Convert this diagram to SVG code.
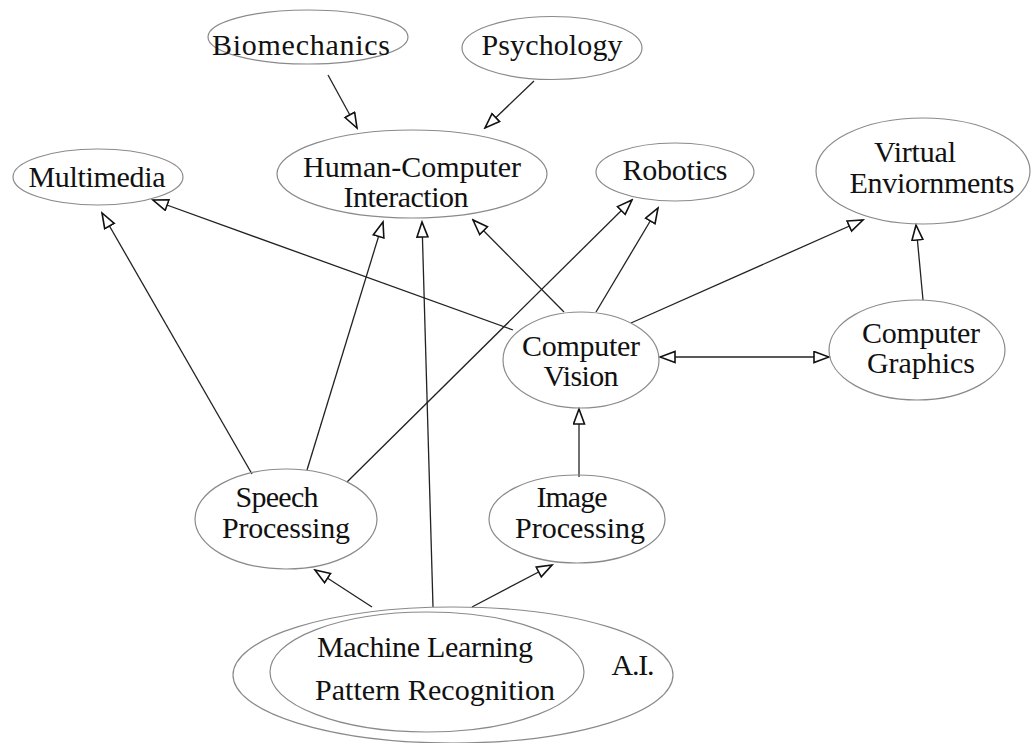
<svg xmlns="http://www.w3.org/2000/svg" width="1032" height="743" viewBox="0 0 1032 743">
<style>
.n ellipse{fill:none;stroke:#8a8a8a;stroke-width:1.2}
.n text{font-family:"Liberation Serif","Times New Roman",serif;font-size:30px;fill:#111;text-anchor:middle}
.e line{stroke:#222;stroke-width:1.3;marker-end:url(#ah)}
</style>
<defs>
<marker id="ah" markerUnits="userSpaceOnUse" markerWidth="18" markerHeight="14" viewBox="-1 -1 18 14" refX="15" refY="5.5" orient="auto-start-reverse">
<path d="M0,0 L15,5.5 L0,11 z" fill="#fff" stroke="#111" stroke-width="1.6" stroke-linejoin="miter"/>
</marker>
</defs>
<rect width="1032" height="743" fill="#fff"/>
<g class="e" id="connectors">
<line x1="328" y1="75" x2="357" y2="128"/>
<line x1="534" y1="81" x2="485" y2="128"/>
<line x1="513" y1="330" x2="153" y2="200"/>
<line x1="252" y1="474" x2="102" y2="213"/>
<line x1="307" y1="470" x2="383" y2="222"/>
<line x1="433" y1="607" x2="422" y2="222"/>
<line x1="564" y1="312" x2="473" y2="220"/>
<line x1="347" y1="482" x2="632" y2="200"/>
<line x1="596" y1="312" x2="658" y2="208"/>
<line x1="631" y1="323" x2="863" y2="220"/>
<line x1="923" y1="300" x2="916" y2="225"/>
<line x1="660" y1="357" x2="829" y2="357" style="marker-start:url(#ah)"/>
<line x1="579" y1="477" x2="579" y2="409"/>
<line x1="372" y1="607" x2="315" y2="570"/>
<line x1="472" y1="607" x2="552" y2="565"/>
</g>
<g class="n" id="biomechanics"><ellipse cx="308" cy="37" rx="100" ry="27"/><text x="301" y="55" textLength="178">Biomechanics</text></g>
<g class="n" id="psychology"><ellipse cx="552" cy="48" rx="90" ry="31.5"/><text x="552" y="55" textLength="141">Psychology</text></g>
<g class="n" id="hci"><ellipse cx="412" cy="174" rx="135" ry="44"/><text x="412" y="177" textLength="218">Human-Computer</text><text x="406" y="207" textLength="125">Interaction</text></g>
<g class="n" id="multimedia"><ellipse cx="98" cy="177" rx="85" ry="28"/><text x="97" y="187" textLength="137">Multimedia</text></g>
<g class="n" id="robotics"><ellipse cx="675" cy="172" rx="79" ry="29"/><text x="675" y="180" textLength="105">Robotics</text></g>
<g class="n" id="virtual"><ellipse cx="923" cy="171" rx="107" ry="53"/><text x="915" y="162" textLength="82">Virtual</text><text x="932" y="193" textLength="165">Enviornments</text></g>
<g class="n" id="vision"><ellipse cx="581" cy="360" rx="78" ry="48"/><text x="581" y="356" textLength="118">Computer</text><text x="581" y="386" textLength="75">Vision</text></g>
<g class="n" id="graphics"><ellipse cx="917" cy="350" rx="88" ry="50"/><text x="921" y="343" textLength="118">Computer</text><text x="921" y="373" textLength="108">Graphics</text></g>
<g class="n" id="speech"><ellipse cx="286" cy="519" rx="91" ry="50"/><text x="277" y="507" textLength="83">Speech</text><text x="286" y="538" textLength="128">Processing</text></g>
<g class="n" id="image"><ellipse cx="577" cy="519" rx="88" ry="44"/><text x="572" y="507" textLength="71">Image</text><text x="580" y="538" textLength="130">Processing</text></g>
<g class="n" id="ai"><ellipse cx="453" cy="675" rx="220" ry="68"/><ellipse cx="427" cy="672" rx="157" ry="60"/><text x="425" y="657" textLength="216">Machine Learning</text><text x="435" y="700" textLength="240">Pattern Recognition</text><text x="633" y="675" textLength="43">A.I.</text></g>
</svg>
